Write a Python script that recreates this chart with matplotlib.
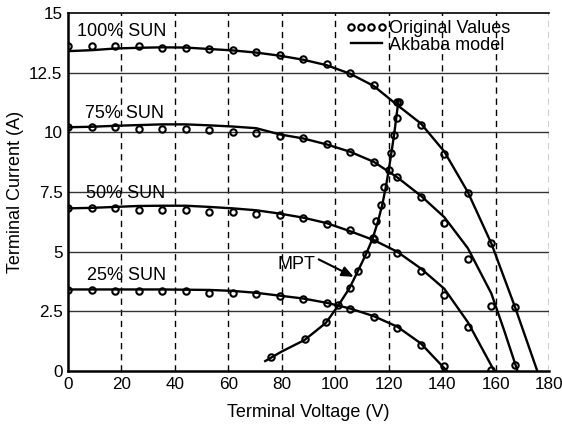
import matplotlib
matplotlib.use("Agg")
import matplotlib.pyplot as plt

plt.rcParams['font.family'] = ['Liberation Sans', 'DejaVu Sans']

# measured panel data (terminal voltage in V, current in A)
v_meas = [0, 8.8, 17.6, 26.4, 35.2, 44.0, 52.8, 61.6, 70.4, 79.2,
          88.0, 96.8, 105.6, 114.4, 123.2, 132.0, 140.8, 149.6, 158.4, 167.2]
i_meas_100 = [13.63, 13.62, 13.63, 13.62, 13.55, 13.55, 13.50, 13.45, 13.38, 13.25,
              13.07, 12.86, 12.50, 12.01, 11.28, 10.33, 9.09, 7.47, 5.35, 2.69]
i_meas_75 = [10.21, 10.21, 10.21, 10.14, 10.15, 10.15, 10.10, 10.03, 9.96, 9.85,
             9.75, 9.51, 9.19, 8.77, 8.14, 7.30, 6.19, 4.68, 2.72, 0.25]
i_meas_50 = [6.82, 6.82, 6.82, 6.74, 6.74, 6.74, 6.67, 6.67, 6.58, 6.55,
             6.40, 6.16, 5.91, 5.52, 4.96, 4.20, 3.18, 1.83, 0.04]
i_meas_25 = [3.39, 3.39, 3.35, 3.35, 3.35, 3.35, 3.28, 3.28, 3.23, 3.13,
             3.02, 2.86, 2.58, 2.27, 1.79, 1.09, 0.21]

# Akbaba model curves
v_mod_100 = [0, 8.8, 17.6, 26.4, 35.2, 44.0, 52.8, 61.6, 70.4, 79.2, 88.0,
             96.8, 105.6, 114.4, 123.2, 132.0, 140.8, 149.6, 158.4, 167.2, 175.6]
i_mod_100 = [13.41, 13.45, 13.52, 13.55, 13.57, 13.56, 13.50, 13.44, 13.35, 13.22, 13.05,
             12.82, 12.46, 11.95, 11.15, 10.38, 9.20, 7.50, 5.35, 2.70, 0]
v_mod_75 = [0, 8.8, 17.6, 26.4, 35.2, 44.0, 52.8, 61.6, 70.4, 79.2, 88.0,
            96.8, 105.6, 114.4, 123.2, 132.0, 140.8, 149.6, 158.4, 163.2, 168.2]
i_mod_75 = [10.22, 10.24, 10.28, 10.31, 10.34, 10.34, 10.30, 10.25, 10.18, 9.92, 9.75,
            9.50, 9.19, 8.77, 8.12, 7.35, 6.45, 5.15, 3.25, 1.70, 0]
v_mod_50 = [0, 8.8, 17.6, 26.4, 35.2, 44.0, 52.8, 61.6, 70.4, 79.2, 88.0,
            96.8, 105.6, 114.4, 123.2, 132.0, 140.8, 149.6, 159.5]
i_mod_50 = [6.82, 6.84, 6.88, 6.92, 6.93, 6.93, 6.88, 6.82, 6.74, 6.60, 6.43,
            6.20, 5.86, 5.49, 5.00, 4.30, 3.45, 2.05, 0]
v_mod_25 = [0, 17.6, 35.2, 52.8, 61.6, 70.4, 79.2, 88.0, 96.8, 105.6, 114.4,
            123.2, 132.0, 141.8]
i_mod_25 = [3.42, 3.42, 3.42, 3.40, 3.36, 3.28, 3.16, 3.04, 2.86, 2.62, 2.30,
            1.86, 1.16, 0]

# maximum power point track
v_mpt_meas = [75.9, 88.5, 96.5, 101.2, 105.4, 108.5, 111.6, 114.1,
              115.4, 117.1, 118.1, 120.0, 120.8, 121.8, 123.1, 123.7]
i_mpt_meas = [0.60, 1.34, 2.07, 2.76, 3.49, 4.20, 4.90, 5.56,
              6.30, 6.98, 7.70, 8.42, 9.15, 9.89, 10.59, 11.28]
v_mpt_mod = [73.8, 80.0, 88.5, 96.5, 101.2, 105.4, 108.5, 111.6, 114.0,
             116.0, 117.6, 118.9, 120.0, 121.0, 122.0, 122.8, 123.6]
i_mpt_mod = [0.42, 0.82, 1.30, 2.02, 2.76, 3.49, 4.20, 4.92, 5.56,
             6.28, 6.98, 7.70, 8.42, 9.15, 9.89, 10.60, 11.30]

sun_labels = ['100% SUN', '75% SUN', '50% SUN', '25% SUN']
sun_label_x = [3.3, 6.4, 6.7, 7.0]
sun_label_y = [14.22, 10.79, 7.43, 4.01]

x_ticks = [0, 20, 40, 60, 80, 100, 120, 140, 160, 180]
y_ticks = [0, 2.5, 5, 7.5, 10, 12.5, 15]
y_tick_labels = ['0', '2.5', '5', '7.5', '10', '12.5', '15']

fig = plt.figure(figsize=(5.62, 4.26), dpi=100)
ax = fig.add_axes([0.121, 0.129, 0.856, 0.840])

mk = dict(ls='none', marker='o', ms=4.6, mfc='none', mec='black', mew=1.5)
ln = dict(color='black', lw=1.7)

meas_sets = [i_meas_100, i_meas_75, i_meas_50, i_meas_25]
mod_sets = [(v_mod_100, i_mod_100), (v_mod_75, i_mod_75),
            (v_mod_50, i_mod_50), (v_mod_25, i_mod_25)]

for k, (vm, im) in enumerate(mod_sets):
    ax.plot(vm, im, **ln, label='Akbaba model' if k == 0 else None)
for k, im in enumerate(meas_sets):
    ax.plot(v_meas[:len(im)], im, **mk, label='Original Values' if k == 0 else None)

ax.plot(v_mpt_mod, i_mpt_mod, **ln)
ax.plot(v_mpt_meas, i_mpt_meas, **mk)

for txt, x, y in zip(sun_labels, sun_label_x, sun_label_y):
    ax.text(x, y, txt, fontsize=13, va='center', ha='left')

# MPT label with arrow pointing onto the track
ax.text(78.3, 4.45, 'MPT', fontsize=13, va='center', ha='left')
ax.annotate('', xy=(106.9, 3.95), xytext=(93.8, 4.68),
            arrowprops=dict(arrowstyle='-|>,head_length=0.7,head_width=0.3',
                            color='black', lw=1.5, shrinkA=0, shrinkB=0))

ax.set_xlim(0, 180)
ax.set_ylim(0, 15)
ax.set_xticks(x_ticks)
ax.set_yticks(y_ticks)
ax.set_yticklabels(y_tick_labels)
ax.tick_params(labelsize=12.3, length=0, pad=4)

# dashed verticals, solid horizontals
for x in x_ticks[1:]:
    ax.axvline(x, color='black', lw=1.0, ls=(0, (4.5, 3.5)), zorder=0)
for y in y_ticks[1:-1]:
    ax.axhline(y, color='#333333', lw=1.0, zorder=0)

ax.spines['right'].set_visible(False)
ax.spines['left'].set_linewidth(1.8)
ax.spines['bottom'].set_linewidth(1.8)
ax.spines['top'].set_linewidth(1.2)

ax.set_xlabel('Terminal Voltage (V)', fontsize=13, labelpad=9)
ax.set_ylabel('Terminal Current (A)', fontsize=13, labelpad=4)

handles, labels = ax.get_legend_handles_labels()
order = [labels.index('Original Values'), labels.index('Akbaba model')]
ax.legend([handles[i] for i in order], [labels[i] for i in order],
          loc='upper right', bbox_to_anchor=(0.945, 1.015), frameon=False,
          fontsize=13, numpoints=4, handlelength=2.3, handletextpad=0.1,
          labelspacing=-0.05, borderpad=0.2)

fig.savefig('out.png', dpi=100)
